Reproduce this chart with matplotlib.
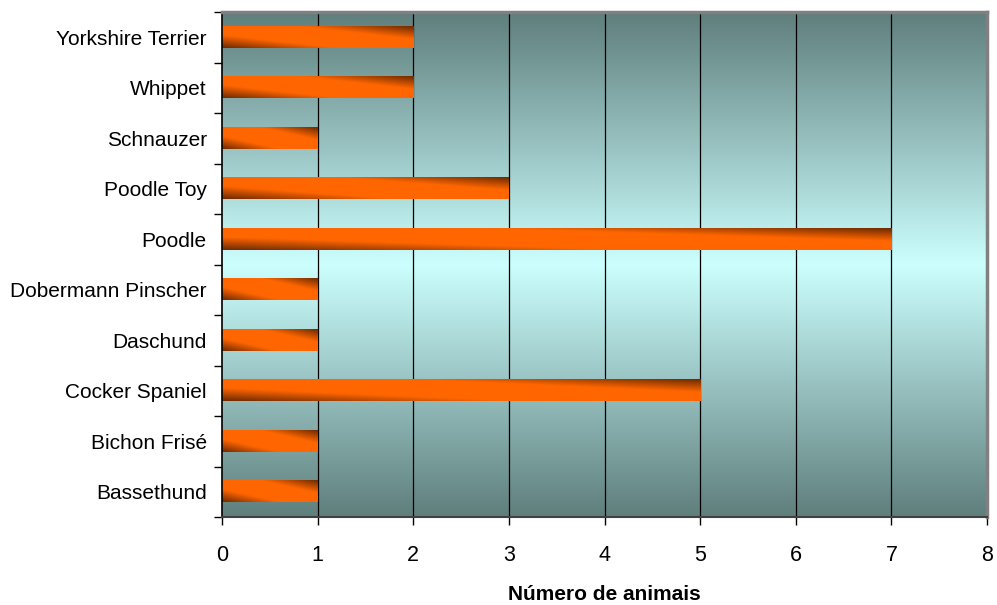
import numpy as np
import matplotlib.pyplot as plt
from matplotlib.colors import LinearSegmentedColormap

plt.rcParams['font.family'] = ['Liberation Sans', 'DejaVu Sans']

# data (bottom to top)
breeds = ['Bassethund', 'Bichon Frisé', 'Cocker Spaniel', 'Daschund',
          'Dobermann Pinscher', 'Poodle', 'Poodle Toy', 'Schnauzer',
          'Whippet', 'Yorkshire Terrier']
counts = [1, 1, 5, 1, 1, 7, 3, 1, 2, 2]
x_ticks = [0, 1, 2, 3, 4, 5, 6, 7, 8]


def main():
	fig = plt.figure(figsize=(9.97, 6.05), dpi=100)
	ax = fig.add_axes([222 / 997, 1 - 517 / 605, 765 / 997, 505 / 605])

	ax.set_xlim(0, 8)
	ax.set_ylim(-0.5, len(breeds) - 0.5)

	# background: dark at top/bottom, light cyan in the middle
	bg_cmap = LinearSegmentedColormap.from_list(
		'bg', ['#5f7f7d', '#ccffff', '#5f7f7d'])
	grad = np.linspace(0, 1, 256).reshape(-1, 1)
	ax.imshow(grad, cmap=bg_cmap, aspect='auto', extent=(0, 8, -0.5, len(breeds) - 0.5),
			  origin='lower', zorder=0, interpolation='bicubic')

	# vertical grid lines
	for xv in x_ticks[1:-1]:
		ax.axvline(xv, color='black', lw=0.9, zorder=1)

	# bars with diagonal gradient (dark at bottom-left and top-right)
	bar_cmap = LinearSegmentedColormap.from_list(
		'bar', [(0, '#6e2a00'), (0.3, '#ff6600'), (0.7, '#ff6600'), (1, '#6e2a00')])
	h = 0.42
	bars = ax.barh(range(len(breeds)), counts, height=h, color='none', zorder=2)
	u = np.linspace(0, 1, 300)
	v = np.linspace(0, 1, 60)
	U, V = np.meshgrid(u, v)
	s = (U + V) / 2
	for bar, c in zip(bars, counts):
		y0 = bar.get_y()
		ax.imshow(s, cmap=bar_cmap, aspect='auto', origin='lower',
				  extent=(0, c, y0, y0 + h), zorder=2, interpolation='bilinear')

	ax.set_xticks(x_ticks)
	ax.set_yticks(range(len(breeds)))
	ax.set_yticklabels(breeds)
	ax.set_yticks(np.arange(-0.5, len(breeds), 1), minor=True)
	ax.tick_params(axis='y', which='major', length=0, pad=11, labelsize=15)
	ax.tick_params(axis='y', which='minor', length=6, width=1)
	ax.tick_params(axis='x', length=6, width=1, pad=14, labelsize=15.5)

	ax.set_xlabel('Número de animais', fontsize=15, fontweight='bold', labelpad=14)

	ax.spines['left'].set_color('black')
	ax.spines['left'].set_linewidth(1.2)
	ax.spines['bottom'].set_color('#404040')
	ax.spines['bottom'].set_linewidth(1.5)
	for side in ['top', 'right']:
		ax.spines[side].set_color('#808080')
		ax.spines[side].set_linewidth(2.5)

	fig.savefig('out.png', dpi=100)


if __name__ == '__main__':
	main()
